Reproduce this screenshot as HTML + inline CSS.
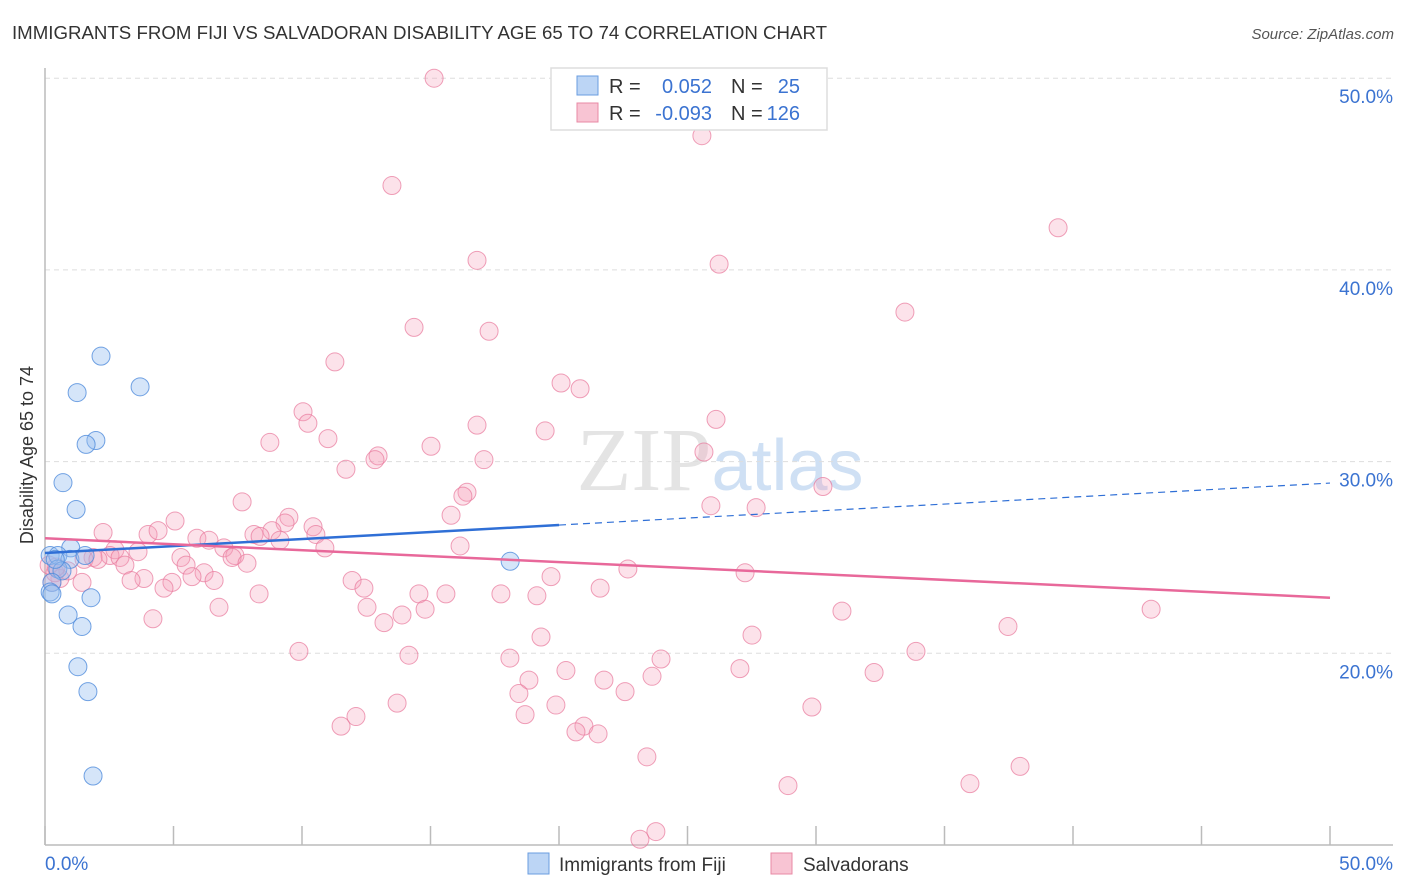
<!DOCTYPE html>
<html><head><meta charset="utf-8"><style>
body{margin:0;background:#fff;font-family:"Liberation Sans",sans-serif;}
svg{display:block}
</style></head><body>
<svg id="chart" width="1406" height="892" xmlns="http://www.w3.org/2000/svg">
<text x="12" y="39" font-size="18" textLength="815" lengthAdjust="spacingAndGlyphs" fill="#333" font-family="Liberation Sans, sans-serif">IMMIGRANTS FROM FIJI VS SALVADORAN DISABILITY AGE 65 TO 74 CORRELATION CHART</text>
<text x="1394" y="39" font-size="15" fill="#555" text-anchor="end" font-style="italic">Source: ZipAtlas.com</text>
<text x="720" y="490" font-size="90" fill="#e4e4e4" text-anchor="middle" font-family="Liberation Serif, serif">ZIP<tspan fill="#cfe0f4" font-family="Liberation Sans, sans-serif" font-size="72">atlas</tspan></text>
<g id="grid"></g>
<g id="axes"></g>
<g id="pts"></g>
<g id="trend"></g>
<text transform="translate(33,455) rotate(-90)" font-size="18" fill="#333" text-anchor="middle">Disability Age 65 to 74</text>
<g>
<rect x="551" y="68" width="276" height="62" fill="#fff" stroke="#ddd" stroke-width="1.5"/>
<rect x="577" y="76" width="21" height="19" fill="#bcd5f5" stroke="#6a9de0"/>
<rect x="577" y="103" width="21" height="19" fill="#f8c4d3" stroke="#e88aa5"/>
<text x="609" y="93" font-size="20" fill="#333">R =</text>
<text x="712" y="93" font-size="20" fill="#3b73d1" text-anchor="end">0.052</text>
<text x="731" y="93" font-size="20" fill="#333">N =</text>
<text x="800" y="93" font-size="20" fill="#3b73d1" text-anchor="end">25</text>
<text x="609" y="120" font-size="20" fill="#333">R =</text>
<text x="712" y="120" font-size="20" fill="#3b73d1" text-anchor="end">-0.093</text>
<text x="731" y="120" font-size="20" fill="#333">N =</text>
<text x="800" y="120" font-size="20" fill="#3b73d1" text-anchor="end">126</text>
</g>
<g>
<rect x="528" y="853" width="21" height="21" fill="#bcd5f5" stroke="#6a9de0"/>
<text x="559" y="871" font-size="19" fill="#333">Immigrants from Fiji</text>
</g>
<g>
<rect x="771" y="853" width="21" height="21" fill="#f8c4d3" stroke="#e88aa5"/>
<text x="803" y="871" font-size="19" fill="#333">Salvadorans</text>
</g>
</svg>
<script>
const fijiX=[2.18,3.70,1.25,1.98,1.60,0.70,1.21,1.0,0.2,0.5,0.97,1.56,0.5,0.66,0.27,0.2,0.27,1.79,0.9,1.44,1.28,1.67,1.87,18.1,0.4];
const fijiY=[35.5,33.9,33.6,31.1,30.9,28.9,27.5,25.5,25.1,25.1,24.9,25.1,24.4,24.3,23.7,23.2,23.1,22.9,22.0,21.4,19.3,18.0,13.6,24.8,24.9];
const salvX=[15.14,25.56,13.50,39.42,16.81,26.23,33.46,14.36,17.28,11.28,20.08,20.82,10.04,10.23,26.11,16.81,19.46,11.01,8.75,15.02,25.64,12.96,12.84,17.08,11.71,30.27,16.42,16.26,7.67,25.91,27.67,15.80,5.06,9.49,9.34,10.43,2.26,4.01,4.40,8.83,10.54,5.91,6.38,8.13,8.37,9.14,6.96,16.15,10.89,2.72,3.62,2.53,1.87,2.92,1.52,2.06,5.29,7.39,7.28,7.86,3.11,5.49,6.19,5.72,22.68,27.24,19.69,3.85,1.44,3.35,4.94,6.58,11.95,4.63,12.41,21.60,8.33,14.55,15.60,17.74,19.14,12.53,14.79,6.77,4.20,13.89,31.01,43.04,13.19,37.47,27.51,19.30,14.16,9.88,33.89,23.97,18.09,27.04,20.27,32.26,23.62,18.83,21.75,18.44,22.57,13.70,19.88,29.84,18.68,12.10,11.52,20.97,20.66,21.52,23.42,37.94,28.91,35.99,23.77,23.15,0.58,0.39,0.89,0.27,0.16,0.43];
const salvY=[50.0,47.0,44.4,42.2,40.5,40.3,37.8,37.0,36.8,35.2,34.1,33.8,32.6,32.0,32.2,31.9,31.6,31.2,31.0,30.8,30.5,30.3,30.1,30.1,29.6,28.7,28.4,28.2,27.9,27.7,27.6,27.2,26.9,27.1,26.8,26.6,26.3,26.2,26.4,26.4,26.2,26.0,25.9,26.2,26.1,25.9,25.5,25.6,25.5,25.4,25.3,25.1,25.0,25.0,24.9,24.9,25.0,25.1,25.0,24.7,24.6,24.6,24.2,24.0,24.4,24.2,24.0,23.9,23.7,23.8,23.7,23.8,23.8,23.4,23.4,23.4,23.1,23.1,23.1,23.1,23.0,22.4,22.3,22.4,21.8,22.0,22.2,22.3,21.6,21.4,20.95,20.85,19.9,20.1,20.1,19.7,19.75,19.2,19.1,19.0,18.8,18.6,18.6,17.9,18.0,17.4,17.3,17.2,16.8,16.7,16.2,16.2,15.9,15.8,14.6,14.1,13.1,13.2,10.7,10.3,23.9,24.2,24.3,23.7,24.6,24.5];
const fijiTrend=[25.23,28.88];
const salvTrend=[26.0,22.9];
const yTicks=[20,30,40,50];
const yTickLabels=["20.0%","30.0%","40.0%","50.0%"];
const xTicks=[0,5,10,15,20,25,30,35,40,45,50];

const NS="http://www.w3.org/2000/svg";
const sx=v=>45+v*25.7;
const sy=v=>845-(v-10)*19.17;
function mk(tag,attrs,parent){const e=document.createElementNS(NS,tag);for(const k in attrs)e.setAttribute(k,attrs[k]);parent.appendChild(e);return e;}
const grid=document.getElementById('grid'),axes=document.getElementById('axes'),pts=document.getElementById('pts'),trend=document.getElementById('trend');
yTicks.forEach((t,i)=>{
 const l=mk('line',{x1:45,x2:1393,y1:sy(t),y2:sy(t),stroke:'#ddd','stroke-dasharray':'5,4'},grid);
 
 
 const tx=mk('text',{x:1393,y:sy(t)+25,'font-size':19,fill:'#3b73d1','text-anchor':'end'},axes);
 tx.textContent=yTickLabels[i];
 
 
});
const ya=mk('line',{x1:45,x2:45,y1:68,y2:845,stroke:'#bbb','stroke-width':1.5},axes);


const xa=mk('line',{x1:45,x2:1393,y1:845,y2:845,stroke:'#bbb','stroke-width':1.5},axes);


xTicks.forEach(t=>{
 const l=mk('line',{x1:sx(t),x2:sx(t),y1:826,y2:845,stroke:'#bbb','stroke-width':1.5},axes);
 
 
});
[[0,"0.0%","start"],[50,"50.0%","end"]].forEach(a=>{
 const tx=mk('text',{x:a[0]===0?45:1393,y:870,'font-size':19,fill:'#3b73d1','text-anchor':a[2]},axes);
 tx.textContent=a[1];
 
 
});
salvX.forEach((x,i)=>{
 const c=mk('circle',{cx:sx(x),cy:sy(salvY[i]),r:9,fill:'rgba(245,160,185,0.3)',stroke:'rgba(232,120,155,0.7)','stroke-width':1},pts);
 
 
});
fijiX.forEach((x,i)=>{
 const c=mk('circle',{cx:sx(x),cy:sy(fijiY[i]),r:9,fill:'rgba(150,190,240,0.4)',stroke:'rgba(80,140,220,0.8)','stroke-width':1},pts);
 
 
});
const fy=x=>fijiTrend[0]+(fijiTrend[1]-fijiTrend[0])*x/50;
const t1=mk('line',{x1:sx(0),y1:sy(fy(0)),x2:sx(20),y2:sy(fy(20)),stroke:'#2f6fd6','stroke-width':2.5},trend);


const t2=mk('line',{x1:sx(20),y1:sy(fy(20)),x2:sx(50),y2:sy(fy(50)),stroke:'#2f6fd6','stroke-width':1.2,'stroke-dasharray':'7,5'},trend);


const t3=mk('line',{x1:sx(0),y1:sy(salvTrend[0]),x2:sx(50),y2:sy(salvTrend[1]),stroke:'#e8689a','stroke-width':2.5},trend);


</script>
</body></html>
